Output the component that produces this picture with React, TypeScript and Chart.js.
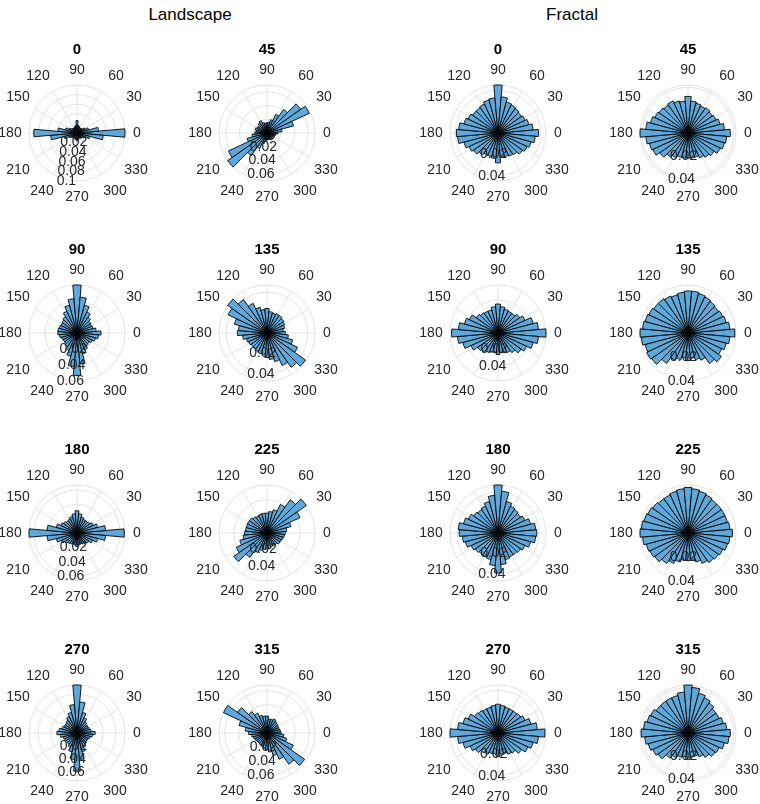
import React, { useEffect, useRef } from 'react';
import { Chart, registerables } from 'chart.js';

Chart.register(...registerables);

// bin centres (degrees, counter-clockwise from east)
const binAngles = [0, 10, 20, 30, 40, 50, 60, 70, 80, 90, 100, 110, 120, 130, 140, 150, 160, 170,
  180, 190, 200, 210, 220, 230, 240, 250, 260, 270, 280, 290, 300, 310, 320, 330, 340, 350];
const thetaTicks = [0, 30, 60, 90, 120, 150, 180, 210, 240, 270, 300, 330];
const rTickStep = 0.02;
const groupTitles = ['Landscape', 'Fractal'];
const panelTitles = ['0', '45', '90', '135', '180', '225', '270', '315'];

// probability per bin, indexed like binAngles
const landscape0 = [0.100, 0.045, 0.025, 0.018, 0.014, 0.012, 0.012, 0.014, 0.016, 0.026, 0.016, 0.014,
  0.012, 0.012, 0.014, 0.018, 0.025, 0.040, 0.090, 0.055, 0.028, 0.018, 0.014, 0.012,
  0.012, 0.012, 0.014, 0.016, 0.014, 0.012, 0.012, 0.013, 0.015, 0.018, 0.028, 0.055];
const landscape45 = [0.016, 0.022, 0.040, 0.068, 0.060, 0.042, 0.030, 0.020, 0.016, 0.015, 0.014, 0.016,
  0.020, 0.018, 0.016, 0.016, 0.018, 0.016, 0.018, 0.022, 0.030, 0.062, 0.070, 0.040,
  0.025, 0.016, 0.012, 0.010, 0.010, 0.010, 0.011, 0.012, 0.012, 0.012, 0.012, 0.013];
const landscape90 = [0.030, 0.024, 0.021, 0.020, 0.021, 0.024, 0.029, 0.036, 0.045, 0.060, 0.043, 0.036,
  0.030, 0.025, 0.023, 0.022, 0.023, 0.024, 0.024, 0.022, 0.020, 0.019, 0.019, 0.021,
  0.024, 0.030, 0.042, 0.053, 0.039, 0.027, 0.023, 0.020, 0.019, 0.021, 0.024, 0.027];
const landscape135 = [0.018, 0.016, 0.018, 0.019, 0.020, 0.021, 0.021, 0.020, 0.021, 0.024, 0.023, 0.026,
  0.032, 0.040, 0.047, 0.042, 0.033, 0.028, 0.029, 0.024, 0.021, 0.020, 0.019, 0.019,
  0.020, 0.021, 0.021, 0.024, 0.026, 0.029, 0.035, 0.041, 0.046, 0.033, 0.026, 0.021];
const landscape180 = [0.066, 0.040, 0.030, 0.025, 0.022, 0.021, 0.021, 0.023, 0.027, 0.031, 0.027, 0.024,
  0.022, 0.021, 0.023, 0.025, 0.030, 0.042, 0.067, 0.042, 0.030, 0.024, 0.020, 0.018,
  0.017, 0.016, 0.017, 0.019, 0.017, 0.016, 0.017, 0.018, 0.020, 0.024, 0.030, 0.040];
const landscape225 = [0.022, 0.024, 0.030, 0.044, 0.058, 0.049, 0.038, 0.029, 0.026, 0.024, 0.024, 0.024,
  0.023, 0.024, 0.026, 0.026, 0.026, 0.026, 0.027, 0.029, 0.034, 0.041, 0.049, 0.036,
  0.026, 0.022, 0.020, 0.019, 0.019, 0.017, 0.017, 0.017, 0.019, 0.019, 0.020, 0.021];
const landscape270 = [0.028, 0.022, 0.020, 0.019, 0.019, 0.021, 0.026, 0.033, 0.048, 0.074, 0.044, 0.033,
  0.028, 0.024, 0.022, 0.022, 0.024, 0.028, 0.031, 0.026, 0.022, 0.021, 0.020, 0.021,
  0.024, 0.030, 0.041, 0.059, 0.041, 0.030, 0.024, 0.021, 0.019, 0.019, 0.021, 0.024];
const landscape315 = [0.020, 0.019, 0.018, 0.018, 0.019, 0.020, 0.022, 0.020, 0.020, 0.024, 0.024, 0.026,
  0.031, 0.037, 0.051, 0.068, 0.041, 0.031, 0.026, 0.022, 0.020, 0.019, 0.018, 0.018,
  0.019, 0.020, 0.022, 0.024, 0.027, 0.033, 0.041, 0.054, 0.065, 0.041, 0.029, 0.024];

const fractal0 = [0.038, 0.033, 0.030, 0.028, 0.027, 0.028, 0.029, 0.030, 0.034, 0.045, 0.033, 0.032,
  0.030, 0.029, 0.029, 0.031, 0.033, 0.037, 0.039, 0.038, 0.033, 0.030, 0.028, 0.025,
  0.023, 0.023, 0.024, 0.028, 0.023, 0.023, 0.024, 0.025, 0.028, 0.030, 0.032, 0.035];
const fractal45 = [0.037, 0.032, 0.029, 0.027, 0.026, 0.027, 0.026, 0.027, 0.028, 0.032, 0.028, 0.029,
  0.031, 0.030, 0.031, 0.032, 0.034, 0.037, 0.042, 0.037, 0.035, 0.034, 0.030, 0.026,
  0.024, 0.022, 0.022, 0.022, 0.022, 0.022, 0.024, 0.026, 0.028, 0.031, 0.033, 0.034];
const fractal90 = [0.058, 0.049, 0.044, 0.036, 0.032, 0.029, 0.029, 0.030, 0.032, 0.035, 0.032, 0.029,
  0.029, 0.030, 0.032, 0.038, 0.042, 0.048, 0.056, 0.049, 0.044, 0.036, 0.030, 0.028,
  0.026, 0.024, 0.024, 0.026, 0.024, 0.024, 0.026, 0.029, 0.034, 0.038, 0.044, 0.049];
const fractal135 = [0.039, 0.035, 0.033, 0.032, 0.031, 0.032, 0.033, 0.034, 0.035, 0.035, 0.034, 0.033,
  0.034, 0.035, 0.035, 0.036, 0.037, 0.038, 0.040, 0.039, 0.037, 0.038, 0.037, 0.031,
  0.025, 0.023, 0.021, 0.023, 0.021, 0.023, 0.025, 0.031, 0.034, 0.031, 0.033, 0.035];
const fractal180 = [0.038, 0.037, 0.033, 0.029, 0.027, 0.028, 0.029, 0.032, 0.041, 0.047, 0.037, 0.032,
  0.029, 0.028, 0.029, 0.032, 0.035, 0.039, 0.038, 0.035, 0.033, 0.029, 0.027, 0.026,
  0.026, 0.027, 0.032, 0.039, 0.031, 0.027, 0.026, 0.026, 0.027, 0.029, 0.033, 0.037];
const fractal225 = [0.037, 0.035, 0.034, 0.034, 0.034, 0.034, 0.035, 0.036, 0.037, 0.038, 0.037, 0.036,
  0.035, 0.035, 0.036, 0.037, 0.038, 0.039, 0.040, 0.038, 0.036, 0.035, 0.034, 0.031,
  0.028, 0.025, 0.023, 0.023, 0.023, 0.025, 0.028, 0.030, 0.031, 0.032, 0.034, 0.035];
const fractal270 = [0.044, 0.037, 0.032, 0.028, 0.026, 0.025, 0.025, 0.025, 0.026, 0.027, 0.026, 0.025,
  0.025, 0.026, 0.027, 0.031, 0.034, 0.038, 0.045, 0.038, 0.034, 0.029, 0.026, 0.023,
  0.022, 0.020, 0.020, 0.022, 0.020, 0.020, 0.022, 0.023, 0.027, 0.031, 0.034, 0.038];
const fractal315 = [0.037, 0.034, 0.032, 0.030, 0.030, 0.032, 0.034, 0.036, 0.040, 0.042, 0.036, 0.034,
  0.034, 0.034, 0.034, 0.036, 0.037, 0.039, 0.041, 0.038, 0.036, 0.034, 0.032, 0.027,
  0.024, 0.022, 0.021, 0.023, 0.021, 0.021, 0.023, 0.026, 0.029, 0.030, 0.033, 0.036];

const landscapeSeries = [landscape0, landscape45, landscape90, landscape135, landscape180, landscape225, landscape270, landscape315];
const fractalSeries = [fractal0, fractal45, fractal90, fractal135, fractal180, fractal225, fractal270, fractal315];

// ---- layout / style (not data) ----
const FONT = '"Liberation Sans", Arial, Helvetica, sans-serif';
const TEXT = '#262626';
const GRID = '#e2e2e2';
const BAR = '#5EA8DA';
const CANVAS = 190;
const RADIUS = 48;
const colCenters = [77, 267, 498, 688];
const rowCenters = [133, 333, 533, 733];
const groupTitleX = [190, 572];
// centre offsets of the theta labels, by thetaTicks index
const thetaLabelOffsets: [number, number][] = [
  [60, 0], [57, -36], [39, -57], [0, -63], [-39, -57], [-59, -36],
  [-67, 0], [-59, 37], [-35, 58], [0, 64], [38, 58], [59, 37],
];

const polarDecor = {
  id: 'polarDecor',
  beforeDatasetsDraw(chart: any) {
    const s = chart.scales.r;
    const ctx = chart.ctx;
    const cx = s.xCenter, cy = s.yCenter;
    const R = s.getDistanceFromCenterForValue(s.max);
    ctx.save();
    ctx.strokeStyle = GRID;
    ctx.lineWidth = 1;
    for (let k = 1; k * rTickStep < s.max - 1e-9; k++) {
      const r = s.getDistanceFromCenterForValue(k * rTickStep);
      ctx.beginPath();
      ctx.arc(cx, cy, r, 0, Math.PI * 2);
      ctx.stroke();
    }
    ctx.beginPath();
    ctx.arc(cx, cy, R, 0, Math.PI * 2);
    ctx.stroke();
    thetaTicks.forEach((t) => {
      const a = (t * Math.PI) / 180;
      ctx.beginPath();
      ctx.moveTo(cx, cy);
      ctx.lineTo(cx + R * Math.cos(a), cy - R * Math.sin(a));
      ctx.stroke();
    });
    ctx.restore();
  },
  afterDraw(chart: any, _args: any, opts: any) {
    const s = chart.scales.r;
    const ctx = chart.ctx;
    const cx = s.xCenter, cy = s.yCenter;
    ctx.save();
    ctx.fillStyle = TEXT;
    ctx.font = `14px ${FONT}`;
    ctx.textAlign = 'center';
    ctx.textBaseline = 'middle';
    thetaTicks.forEach((t, i) => {
      const [dx, dy] = thetaLabelOffsets[i];
      ctx.fillText(String(t), cx + dx, cy + dy);
    });
    ctx.textAlign = 'left';
    for (let k = 1; k * rTickStep <= s.max + 1e-9; k++) {
      const v = k * rTickStep;
      const r = s.getDistanceFromCenterForValue(v);
      ctx.fillText(String(+v.toFixed(2)), cx - 16 - 0.09 * r, cy + r);
    }
    ctx.fillStyle = '#000';
    ctx.font = `bold 15px ${FONT}`;
    ctx.textAlign = 'center';
    ctx.fillText(opts.title, cx, cy - 83);
    ctx.restore();
  },
};

function PolarHist({ values, title }: { values: number[]; title: string }) {
  const ref = useRef<HTMLCanvasElement>(null);
  useEffect(() => {
    if (!ref.current) return;
    const n = binAngles.length;
    // chart segments run clockwise from east; bins are counter-clockwise
    const ordered = binAngles.map((_, i) => values[(n - i) % n]);
    const labels = binAngles.map((_, i) => String(binAngles[(n - i) % n]));
    const pad = (CANVAS - 2 * RADIUS) / 2;
    const chart = new Chart(ref.current, {
      type: 'polarArea',
      data: {
        labels,
        datasets: [{
          data: ordered,
          backgroundColor: BAR,
          borderColor: '#000',
          borderWidth: 0.9,
        }],
      },
      options: {
        responsive: false,
        animation: false,
        devicePixelRatio: 1,
        layout: { padding: pad },
        plugins: {
          legend: { display: false },
          tooltip: { enabled: false },
          polarDecor: { title },
        } as any,
        scales: {
          r: {
            min: 0,
            max: Math.max(...values),
            startAngle: 85,
            ticks: { display: false, stepSize: rTickStep },
            grid: { display: false },
            angleLines: { display: false },
            pointLabels: { display: false },
          },
        },
      },
      plugins: [polarDecor],
    });
    return () => chart.destroy();
  }, [values, title]);
  return <canvas ref={ref} width={CANVAS} height={CANVAS} style={{ width: CANVAS, height: CANVAS }} />;
}

export default function App() {
  const panels: { values: number[]; title: string; x: number; y: number }[] = [];
  [landscapeSeries, fractalSeries].forEach((series, g) => {
    series.forEach((values, i) => {
      panels.push({
        values,
        title: panelTitles[i],
        x: colCenters[g * 2 + (i % 2)],
        y: rowCenters[Math.floor(i / 2)],
      });
    });
  });
  return (
    <div style={{ position: 'absolute', left: 0, top: 0, width: 760, height: 804, overflow: 'hidden', background: '#fff' }}>
      {groupTitles.map((t, g) => (
        <div key={t} style={{
          position: 'absolute', left: groupTitleX[g] - 100, top: 5, width: 200, textAlign: 'center',
          font: `17px ${FONT}`, color: '#000', lineHeight: '20px',
        }}>{t}</div>
      ))}
      {panels.map((p, i) => (
        <div key={i} style={{ position: 'absolute', left: p.x - CANVAS / 2, top: p.y - CANVAS / 2, width: CANVAS, height: CANVAS }}>
          <PolarHist values={p.values} title={p.title} />
        </div>
      ))}
    </div>
  );
}
